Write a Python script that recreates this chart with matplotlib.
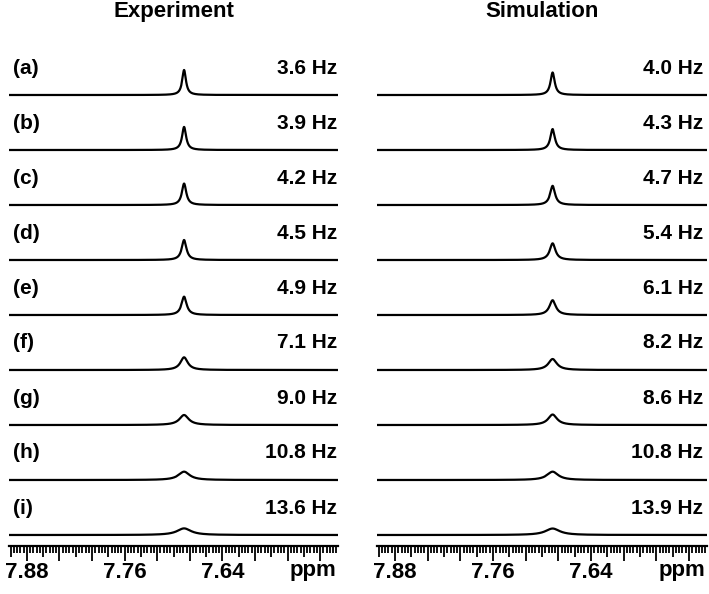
import numpy as np
import matplotlib
matplotlib.use("Agg")
import matplotlib.pyplot as plt

plt.rcParams["font.family"] = ["Liberation Sans", "DejaVu Sans"]
plt.rcParams["font.weight"] = "bold"

# line widths (Hz)
letters = ["(a)", "(b)", "(c)", "(d)", "(e)", "(f)", "(g)", "(h)", "(i)"]
exp_lw = [3.6, 3.9, 4.2, 4.5, 4.9, 7.1, 9.0, 10.8, 13.6]
sim_lw = [4.0, 4.3, 4.7, 5.4, 6.1, 8.2, 8.6, 10.8, 13.9]

peak_ppm = 7.687      # peak centre
sf_mhz = 650.0        # spectrometer frequency used to turn Hz into ppm
tick_labels = [7.88, 7.76, 7.64]

# axis range and stacking
ppm_left, ppm_right = 7.902, 7.498
row_gap = 55.0
base0 = 11.0
height_ref = 25.0     # peak height of a 3.6 Hz line (constant area)

ppm = np.linspace(ppm_right, ppm_left, 4000)


def lorentz(lw_hz):
    half = lw_hz / sf_mhz / 2.0
    h = height_ref * 3.6 / lw_hz
    return h * half**2 / ((ppm - peak_ppm) ** 2 + half**2)


fig = plt.figure(figsize=(7.09, 5.94), dpi=100)
ax1 = fig.add_axes([9 / 709, 48 / 594, 329 / 709, 506 / 594])
ax2 = fig.add_axes([377 / 709, 48 / 594, 330 / 709, 506 / 594])

n = len(letters)
for ax, widths, title, show_letters, hz_x in [
    (ax1, exp_lw, "Experiment", True, 0.997),
    (ax2, sim_lw, "Simulation", False, 0.989),
]:
    for k, lw in enumerate(widths):
        base = base0 + row_gap * (n - 1 - k)
        ax.plot(ppm, base + lorentz(lw), color="black", lw=1.6)
        ax.text(hz_x, base + 27, f"{lw:.1f} Hz", transform=ax.get_yaxis_transform(),
                ha="right", va="center", fontsize=15, fontweight="bold")
        if show_letters:
            ax.text(0.012, base + 27, letters[k], transform=ax.get_yaxis_transform(),
                    ha="left", va="center", fontsize=15, fontweight="bold")

    ax.set_xlim(ppm_left, ppm_right)
    ax.set_ylim(0, 506)
    for s in ["top", "left", "right"]:
        ax.spines[s].set_visible(False)
    ax.spines["bottom"].set_linewidth(1.6)
    ax.set_yticks([])

    # ticks: long every 0.04, medium every 0.02, short every 0.004
    major = np.round(np.arange(7.52, 7.90 + 1e-9, 0.02), 2)
    labels = [f"{v:.2f}" if v in tick_labels else "" for v in major]
    ax.set_xticks(major, labels)
    ax.set_xticks(np.round(np.arange(7.500, 7.900 + 1e-9, 0.004), 3), minor=True)
    ax.tick_params(axis="x", which="major", direction="out", length=10.8, width=1.3,
                   pad=1.0, labelsize=16)
    ax.tick_params(axis="x", which="minor", direction="out", length=5.2, width=1.3)
    for v, t in zip(major, ax.xaxis.get_major_ticks()):
        if round(v / 0.02) % 2 == 1:
            t.tick1line.set_markersize(7.8)
    for lab in ax.get_xticklabels():
        lab.set_fontweight("bold")

    ax.annotate("ppm", xy=(0.996, 0), xycoords="axes fraction", xytext=(0, -17.5),
                textcoords="offset points", ha="right", va="center",
                fontsize=16, fontweight="bold")
    ax.set_title(title, fontsize=16, fontweight="bold", pad=16.5)

fig.savefig("out.png", dpi=100)
